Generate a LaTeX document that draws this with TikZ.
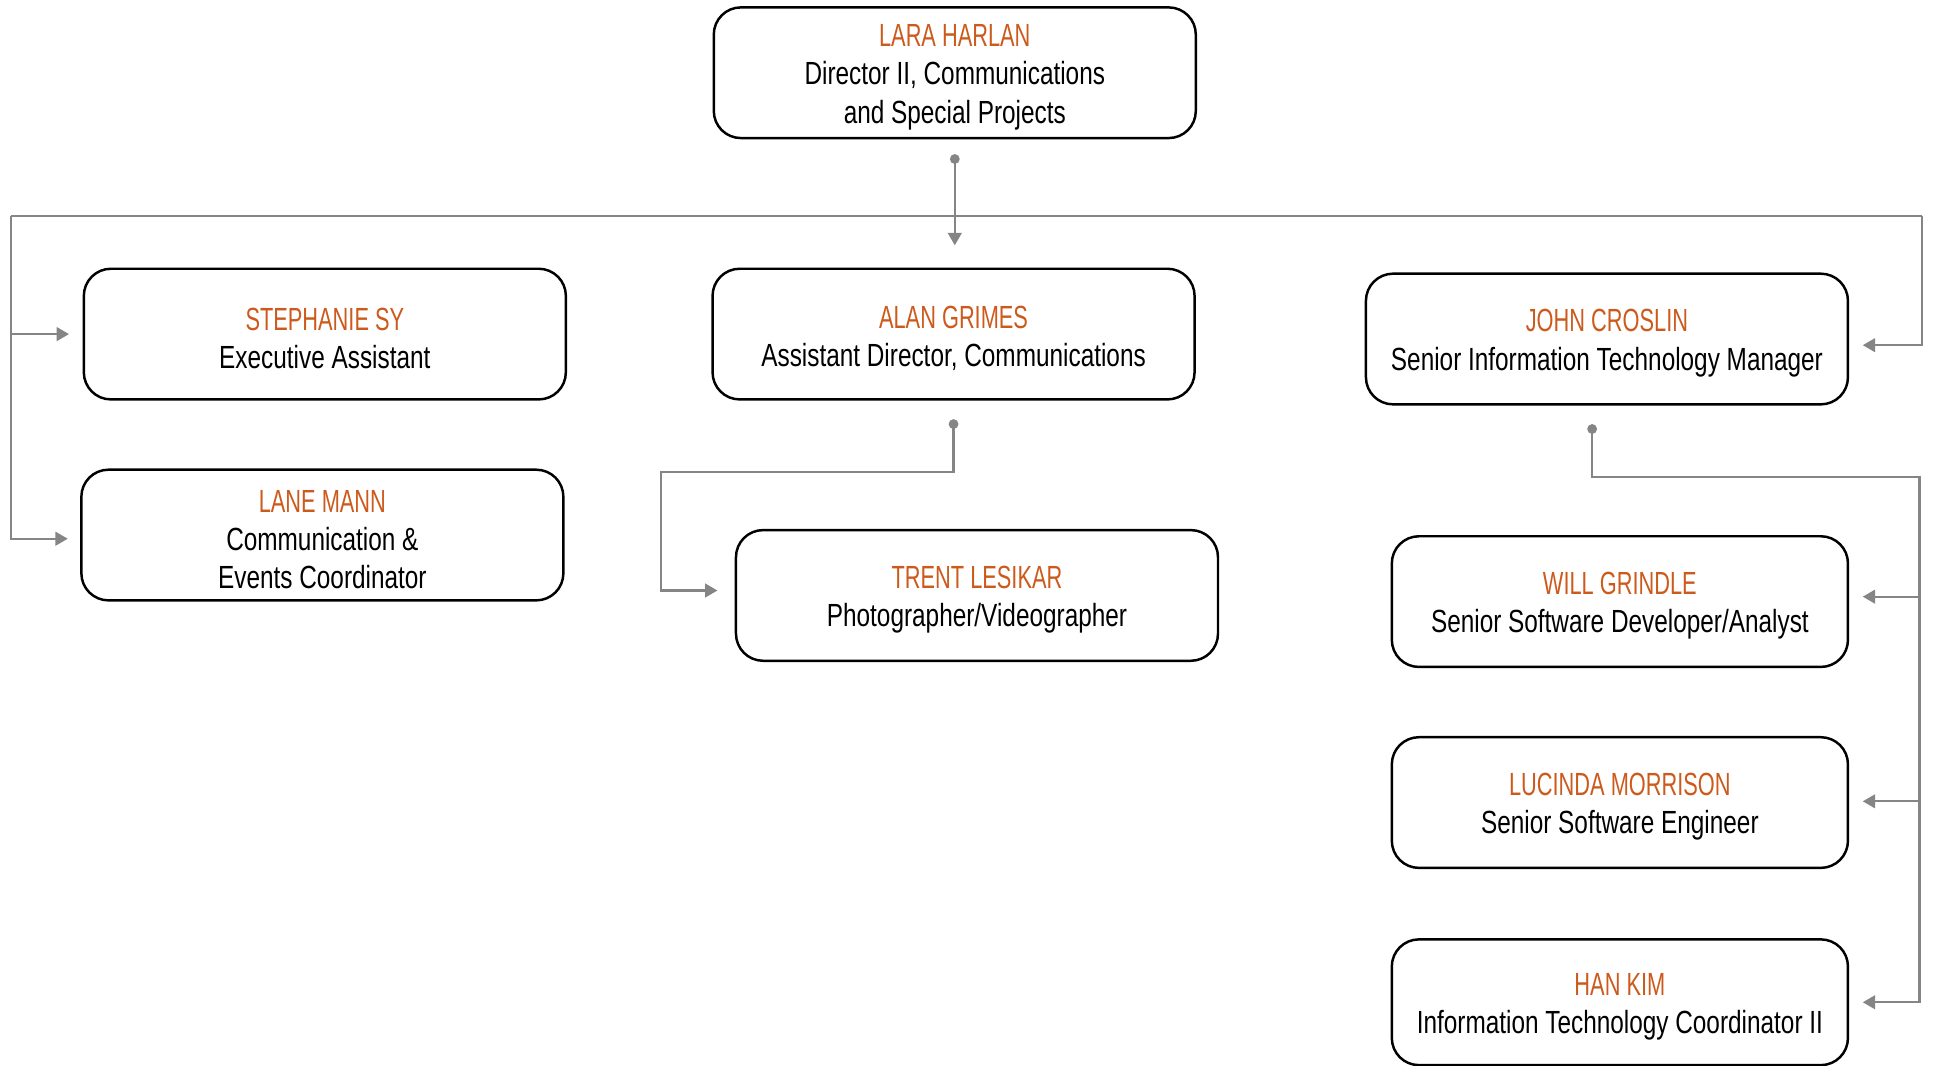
\documentclass[tikz,border=0pt]{standalone}
\usepackage{fontspec}
\setmainfont[FakeStretch=0.76]{Liberation Sans}
\newfontfamily\namefont[FakeStretch=0.68]{Liberation Sans}
\usetikzlibrary{arrows.meta,calc}
\definecolor{uto}{HTML}{CC5A1C}
\definecolor{lgray}{HTML}{858585}
\newcommand{\person}[2]{{\namefont\color{uto}\rule{0pt}{25pt}#1}\\#2}
\tikzset{
  pbox/.style={draw=black, line width=2pt, rounded corners=22pt, align=center,
    inner sep=0pt, font=\fontsize{26}{31}\selectfont},
  conn/.style={draw=lgray, line width=1.9pt},
  arr/.style={conn, -{Triangle[length=10pt,width=11pt]}},
  dotc/.style={fill=lgray}
}
\begin{document}
\begin{tikzpicture}[x=1pt,y=-1pt]
\useasboundingbox (0,0) rectangle (1568,864);
% boxes
\node[pbox, minimum width=391pt, minimum height=106pt] (lara) at (774.5,59) {\person{LARA HARLAN}{Director II, Communications\\and Special Projects}};
\node[pbox, minimum width=391pt, minimum height=106pt] (steph) at (263.5,271) {\person{STEPHANIE SY}{Executive Assistant}};
\node[pbox, minimum width=391pt, minimum height=106pt] (lane) at (261.5,434) {\person{LANE MANN}{Communication \&\\Events Coordinator}};
\node[pbox, minimum width=391pt, minimum height=106pt] (alan) at (773.5,271) {\person{ALAN GRIMES}{Assistant Director, Communications}};
\node[pbox, minimum width=391pt, minimum height=106pt] (trent) at (792.5,483) {\person{TRENT LESIKAR}{Photographer/Videographer}};
\node[pbox, minimum width=391pt, minimum height=106pt] (john) at (1303.5,275) {\person{JOHN CROSLIN}{Senior Information Technology Manager}};
\node[pbox, minimum width=370pt, minimum height=106pt] (will) at (1314,488) {\person{WILL GRINDLE}{Senior Software Developer/Analyst}};
\node[pbox, minimum width=370pt, minimum height=106pt] (lucinda) at (1314,651) {\person{LUCINDA MORRISON}{Senior Software Engineer}};
\node[pbox, minimum width=370pt, minimum height=102pt] (han) at (1314,813) {\person{HAN KIM}{Information Technology Coordinator II}};
% connector points
\coordinate (ldot) at ($(lara.south)+(0,16)$);
\coordinate (busL) at (9,175);
\coordinate (busR) at (1559,175);
\coordinate (adot) at ($(alan.south)+(0,19)$);
\coordinate (abend) at (536,383);
\coordinate (jdot) at ($(john.south)+(-12,19)$);
\coordinate (jbus) at (1557,387);
% Lara
\draw[conn] (busL) -- (busR);
\draw[arr] (ldot) -- ($(ldot |- alan.north)+(0,-18)$);
\fill[dotc] (ldot) circle (4pt);
\draw[arr] (busL) |- ($(steph.west)+(-11,0)$);
\draw[arr] (busL) |- ($(lane.west)+(-10,3)$);
\draw[arr] (busR) |- ($(john.east)+(11,5)$);
% Alan
\draw[arr] (adot) |- (abend) |- ($(trent.west)+(-14,-4)$);
\fill[dotc] (adot) circle (4pt);
% John
\draw[arr] (jdot) |- (jbus) |- ($(han.east)+(11,0)$);
\draw[arr] (jbus) |- ($(will.east)+(11,-4)$);
\draw[arr] (jbus) |- ($(lucinda.east)+(11,-1)$);
\fill[dotc] (jdot) circle (4pt);
\end{tikzpicture}
\end{document}
